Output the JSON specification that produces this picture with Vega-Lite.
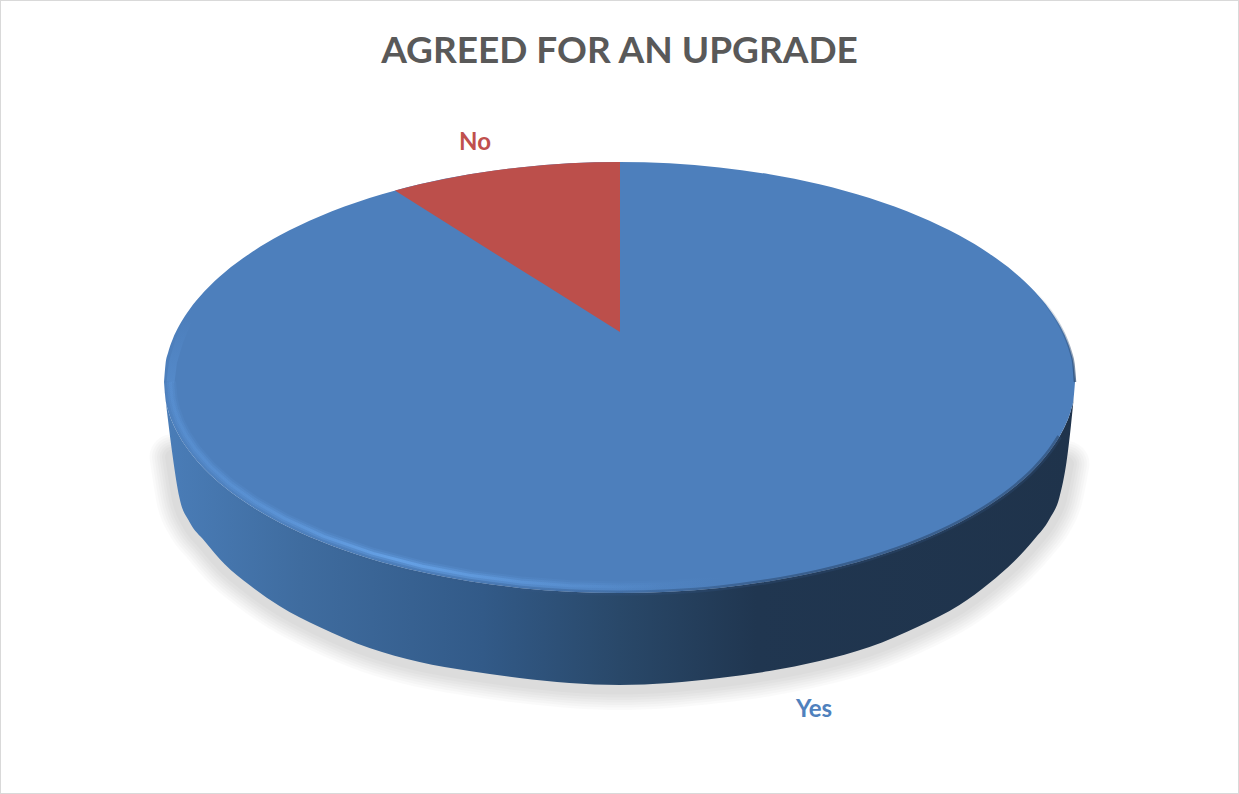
{
  "$schema": "https://vega.github.io/schema/vega-lite/v6.json",
  "width": 1239,
  "height": 794,
  "padding": 0,
  "autosize": {"type": "none"},
  "background": "white",
  "view": {"stroke": "#d9d9d9", "strokeWidth": 2, "fill": "white"},
  "title": {
    "text": "AGREED FOR AN UPGRADE",
    "font": "Lato",
    "fontSize": 37,
    "fontWeight": "bold",
    "color": "#595959",
    "anchor": "middle",
    "offset": -71
  },
  "datasets": {
    "disc": [
      {"x": 164, "faceTop": 382, "faceBottom": 382, "wallBottom": 382},
      {"x": 165.5, "faceTop": 364.2, "faceBottom": 399.1, "wallBottom": 398},
      {"x": 168, "faceTop": 352.9, "faceBottom": 409.9, "wallBottom": 420},
      {"x": 172.5, "faceTop": 339.7, "faceBottom": 422.6, "wallBottom": 455},
      {"x": 179.5, "faceTop": 325.1, "faceBottom": 436.6, "wallBottom": 498},
      {"x": 189.5, "faceTop": 309.4, "faceBottom": 451.6, "wallBottom": 522},
      {"x": 204.5, "faceTop": 291.3, "faceBottom": 469, "wallBottom": 541},
      {"x": 224.5, "faceTop": 272.4, "faceBottom": 487.1, "wallBottom": 564},
      {"x": 249.5, "faceTop": 253.7, "faceBottom": 505.1, "wallBottom": 585},
      {"x": 279.5, "faceTop": 235.6, "faceBottom": 522.4, "wallBottom": 606},
      {"x": 319.5, "faceTop": 216.5, "faceBottom": 540.8, "wallBottom": 627},
      {"x": 369.5, "faceTop": 198.1, "faceBottom": 558.4, "wallBottom": 648},
      {"x": 419.5, "faceTop": 184.3, "faceBottom": 571.6, "wallBottom": 662},
      {"x": 469.5, "faceTop": 174.3, "faceBottom": 581.2, "wallBottom": 671},
      {"x": 519.5, "faceTop": 167.4, "faceBottom": 587.9, "wallBottom": 678},
      {"x": 569.5, "faceTop": 163.3, "faceBottom": 591.7, "wallBottom": 683},
      {"x": 619.5, "faceTop": 162, "faceBottom": 593, "wallBottom": 685},
      {"x": 669.5, "faceTop": 163.3, "faceBottom": 591.7, "wallBottom": 683},
      {"x": 719.5, "faceTop": 167.4, "faceBottom": 587.9, "wallBottom": 678},
      {"x": 769.5, "faceTop": 174.3, "faceBottom": 581.2, "wallBottom": 671},
      {"x": 819.5, "faceTop": 184.3, "faceBottom": 571.6, "wallBottom": 661},
      {"x": 869.5, "faceTop": 198.1, "faceBottom": 558.4, "wallBottom": 647},
      {"x": 919.5, "faceTop": 216.5, "faceBottom": 540.8, "wallBottom": 626},
      {"x": 959.5, "faceTop": 235.6, "faceBottom": 522.4, "wallBottom": 605},
      {"x": 989.5, "faceTop": 253.7, "faceBottom": 505.1, "wallBottom": 583},
      {"x": 1014.5, "faceTop": 272.4, "faceBottom": 487.1, "wallBottom": 561},
      {"x": 1034.5, "faceTop": 291.3, "faceBottom": 469, "wallBottom": 539},
      {"x": 1049.5, "faceTop": 309.4, "faceBottom": 451.6, "wallBottom": 519},
      {"x": 1059.5, "faceTop": 325.1, "faceBottom": 436.6, "wallBottom": 497},
      {"x": 1066.5, "faceTop": 339.7, "faceBottom": 422.6, "wallBottom": 462},
      {"x": 1071, "faceTop": 352.9, "faceBottom": 409.9, "wallBottom": 425},
      {"x": 1073.5, "faceTop": 364.2, "faceBottom": 399.1, "wallBottom": 400},
      {"x": 1075, "faceTop": 382, "faceBottom": 382, "wallBottom": 382}
    ],
    "noSlice": [
      {"x": 395, "rim": 190.6, "edge": 190.6},
      {"x": 419.5, "rim": 184.3, "edge": 206.1},
      {"x": 444.5, "rim": 178.9, "edge": 221.8},
      {"x": 469.5, "rim": 174.3, "edge": 237.5},
      {"x": 494.5, "rim": 170.5, "edge": 253.2},
      {"x": 519.5, "rim": 167.4, "edge": 268.9},
      {"x": 544.5, "rim": 165, "edge": 284.6},
      {"x": 569.5, "rim": 163.3, "edge": 300.3},
      {"x": 594.5, "rim": 162.3, "edge": 316},
      {"x": 620, "rim": 162, "edge": 332}
    ],
    "bevel": [
      {"seq": 1, "x": 188, "y": 320},
      {"seq": 2, "x": 179, "y": 342},
      {"seq": 3, "x": 173, "y": 362},
      {"seq": 4, "x": 170.5, "y": 382},
      {"seq": 5, "x": 172, "y": 398.6},
      {"seq": 6, "x": 174.5, "y": 409.1},
      {"seq": 7, "x": 178.9, "y": 421.4},
      {"seq": 8, "x": 185.8, "y": 435},
      {"seq": 9, "x": 195.6, "y": 449.6},
      {"seq": 10, "x": 210.4, "y": 466.5},
      {"seq": 11, "x": 230.1, "y": 484.1},
      {"seq": 12, "x": 254.8, "y": 501.6},
      {"seq": 13, "x": 284.4, "y": 518.4},
      {"seq": 14, "x": 323.8, "y": 536.3},
      {"seq": 15, "x": 373.1, "y": 553.4},
      {"seq": 16, "x": 422.4, "y": 566.2},
      {"seq": 17, "x": 471.6, "y": 575.6},
      {"seq": 18, "x": 520.9, "y": 582},
      {"seq": 19, "x": 570.2, "y": 585.8},
      {"seq": 20, "x": 619.5, "y": 587},
      {"seq": 21, "x": 668.8, "y": 585.8},
      {"seq": 22, "x": 718.1, "y": 582},
      {"seq": 23, "x": 767.4, "y": 575.6},
      {"seq": 24, "x": 816.6, "y": 566.2},
      {"seq": 25, "x": 865.9, "y": 553.4},
      {"seq": 26, "x": 915.2, "y": 536.3},
      {"seq": 27, "x": 954.6, "y": 518.4},
      {"seq": 28, "x": 984.2, "y": 501.6},
      {"seq": 29, "x": 1008.9, "y": 484.1},
      {"seq": 30, "x": 1028.6, "y": 466.5},
      {"seq": 31, "x": 1043.4, "y": 449.6},
      {"seq": 32, "x": 1053.2, "y": 435},
      {"seq": 33, "x": 1060.1, "y": 421.4},
      {"seq": 34, "x": 1064.5, "y": 409.1},
      {"seq": 35, "x": 1067, "y": 398.6},
      {"seq": 36, "x": 1068.5, "y": 382}
    ],
    "labels": [
      {"answer": "No", "x": 475, "y": 142.5},
      {"answer": "Yes", "x": 814, "y": 709.5}
    ]
  },
  "layer": [
    {
      "description": "Soft ground shadow: stacked translucent strokes along the lower wall edge",
      "data": {"name": "disc"},
      "transform": [{"filter": "datum.wallBottom > 450"}],
      "mark": {"type": "line", "stroke": "black", "strokeOpacity": 0.018, "strokeWidth": 46, "strokeJoin": "round", "strokeCap": "round", "interpolate": "monotone", "yOffset": 2},
      "encoding": {
        "x": {"field": "x", "type": "quantitative", "scale": {"domain": [0, 1239], "nice": false, "zero": false}, "axis": null},
        "y": {"field": "wallBottom", "type": "quantitative", "scale": {"domain": [794, 0], "nice": false, "zero": false}, "axis": null}
      }
    },
    {
      "data": {"name": "disc"},
      "transform": [{"filter": "datum.wallBottom > 450"}],
      "mark": {"type": "line", "stroke": "black", "strokeOpacity": 0.018, "strokeWidth": 41, "strokeJoin": "round", "strokeCap": "round", "interpolate": "monotone", "yOffset": 2},
      "encoding": {"x": {"field": "x", "type": "quantitative"}, "y": {"field": "wallBottom", "type": "quantitative"}}
    },
    {
      "data": {"name": "disc"},
      "transform": [{"filter": "datum.wallBottom > 450"}],
      "mark": {"type": "line", "stroke": "black", "strokeOpacity": 0.02, "strokeWidth": 36, "strokeJoin": "round", "strokeCap": "round", "interpolate": "monotone", "yOffset": 2},
      "encoding": {"x": {"field": "x", "type": "quantitative"}, "y": {"field": "wallBottom", "type": "quantitative"}}
    },
    {
      "data": {"name": "disc"},
      "transform": [{"filter": "datum.wallBottom > 450"}],
      "mark": {"type": "line", "stroke": "black", "strokeOpacity": 0.02, "strokeWidth": 31, "strokeJoin": "round", "strokeCap": "round", "interpolate": "monotone", "yOffset": 2},
      "encoding": {"x": {"field": "x", "type": "quantitative"}, "y": {"field": "wallBottom", "type": "quantitative"}}
    },
    {
      "data": {"name": "disc"},
      "transform": [{"filter": "datum.wallBottom > 450"}],
      "mark": {"type": "line", "stroke": "black", "strokeOpacity": 0.02, "strokeWidth": 26, "strokeJoin": "round", "strokeCap": "round", "interpolate": "monotone", "yOffset": 2},
      "encoding": {"x": {"field": "x", "type": "quantitative"}, "y": {"field": "wallBottom", "type": "quantitative"}}
    },
    {
      "data": {"name": "disc"},
      "transform": [{"filter": "datum.wallBottom > 450"}],
      "mark": {"type": "line", "stroke": "black", "strokeOpacity": 0.02, "strokeWidth": 21, "strokeJoin": "round", "strokeCap": "round", "interpolate": "monotone", "yOffset": 2},
      "encoding": {"x": {"field": "x", "type": "quantitative"}, "y": {"field": "wallBottom", "type": "quantitative"}}
    },
    {
      "data": {"name": "disc"},
      "transform": [{"filter": "datum.wallBottom > 450"}],
      "mark": {"type": "line", "stroke": "black", "strokeOpacity": 0.02, "strokeWidth": 15, "strokeJoin": "round", "strokeCap": "round", "interpolate": "monotone", "yOffset": 2},
      "encoding": {"x": {"field": "x", "type": "quantitative"}, "y": {"field": "wallBottom", "type": "quantitative"}}
    },
    {
      "description": "Cylinder wall, shaded left to right",
      "data": {"name": "disc"},
      "mark": {
        "type": "area",
        "interpolate": "monotone",
        "fill": {
          "gradient": "linear", "x1": 0, "x2": 1, "y1": 0, "y2": 0,
          "stops": [
            {"offset": 0, "color": "#4a7db8"},
            {"offset": 0.15, "color": "#3f6c9f"},
            {"offset": 0.35, "color": "#325a88"},
            {"offset": 0.5, "color": "#294869"},
            {"offset": 0.65, "color": "#203650"},
            {"offset": 1, "color": "#1f334b"}
          ]
        }
      },
      "encoding": {
        "x": {"field": "x", "type": "quantitative"},
        "y": {"field": "faceBottom", "type": "quantitative"},
        "y2": {"field": "wallBottom"}
      }
    },
    {
      "description": "Yes: the whole top face, the No slice sits on top of it",
      "data": {"name": "disc"},
      "mark": {"type": "area", "interpolate": "monotone", "fill": "#4d7fbc"},
      "encoding": {
        "x": {"field": "x", "type": "quantitative"},
        "y": {"field": "faceTop", "type": "quantitative"},
        "y2": {"field": "faceBottom"}
      }
    },
    {
      "description": "No slice",
      "data": {"name": "noSlice"},
      "mark": {"type": "area", "fill": "#bc4f4b"},
      "encoding": {
        "x": {"field": "x", "type": "quantitative"},
        "y": {"field": "rim", "type": "quantitative"},
        "y2": {"field": "edge"}
      }
    },
    {
      "description": "Blurred seam between face and wall on the shaded side",
      "data": {"name": "disc"},
      "transform": [{"filter": "datum.x < 1066 && datum.x > 200"}],
      "mark": {
        "type": "line", "interpolate": "monotone", "strokeWidth": 5,
        "stroke": {
          "gradient": "linear", "x1": 0, "x2": 1, "y1": 0, "y2": 0,
          "stops": [
            {"offset": 0, "color": "rgba(60,100,150,0)"},
            {"offset": 0.4, "color": "rgba(50,85,130,0.3)"},
            {"offset": 0.7, "color": "rgba(40,68,104,0.55)"},
            {"offset": 1, "color": "rgba(40,68,104,0.55)"}
          ]
        }
      },
      "encoding": {"x": {"field": "x", "type": "quantitative"}, "y": {"field": "faceBottom", "type": "quantitative"}}
    },
    {
      "description": "Bevel highlight along the near rim, widest and faintest stroke first",
      "data": {"name": "bevel"},
      "transform": [{"filter": "datum.seq >= 4"}],
      "mark": {
        "type": "line", "strokeWidth": 11, "strokeJoin": "round",
        "stroke": {
          "gradient": "linear", "x1": 0, "x2": 1, "y1": 0, "y2": 0,
          "stops": [
            {"offset": 0, "color": "rgba(98,158,228,0.12)"},
            {"offset": 0.3, "color": "rgba(104,165,235,0.14)"},
            {"offset": 0.5, "color": "rgba(104,165,235,0.06)"},
            {"offset": 0.62, "color": "rgba(104,165,235,0)"},
            {"offset": 1, "color": "rgba(104,165,235,0)"}
          ]
        }
      },
      "encoding": {
        "x": {"field": "x", "type": "quantitative"},
        "y": {"field": "y", "type": "quantitative"},
        "order": {"field": "seq"}
      }
    },
    {
      "data": {"name": "bevel"},
      "transform": [{"filter": "datum.seq >= 4"}],
      "mark": {
        "type": "line", "strokeWidth": 7, "strokeJoin": "round",
        "stroke": {
          "gradient": "linear", "x1": 0, "x2": 1, "y1": 0, "y2": 0,
          "stops": [
            {"offset": 0, "color": "rgba(98,158,228,0.2)"},
            {"offset": 0.3, "color": "rgba(104,165,235,0.3)"},
            {"offset": 0.5, "color": "rgba(104,165,235,0.1)"},
            {"offset": 0.6, "color": "rgba(104,165,235,0)"},
            {"offset": 1, "color": "rgba(104,165,235,0)"}
          ]
        }
      },
      "encoding": {
        "x": {"field": "x", "type": "quantitative"},
        "y": {"field": "y", "type": "quantitative"},
        "order": {"field": "seq"}
      }
    },
    {
      "data": {"name": "bevel"},
      "transform": [{"filter": "datum.seq >= 4"}],
      "mark": {
        "type": "line", "strokeWidth": 3, "strokeJoin": "round",
        "stroke": {
          "gradient": "linear", "x1": 0, "x2": 1, "y1": 0, "y2": 0,
          "stops": [
            {"offset": 0, "color": "rgba(98,158,228,0.2)"},
            {"offset": 0.1, "color": "rgba(100,160,230,0.3)"},
            {"offset": 0.25, "color": "rgba(108,170,240,0.65)"},
            {"offset": 0.4, "color": "rgba(104,165,235,0.3)"},
            {"offset": 0.55, "color": "rgba(104,165,235,0)"},
            {"offset": 1, "color": "rgba(104,165,235,0)"}
          ]
        }
      },
      "encoding": {
        "x": {"field": "x", "type": "quantitative"},
        "y": {"field": "y", "type": "quantitative"},
        "order": {"field": "seq"}
      }
    },
    {
      "description": "Upper end of the highlight, fading out as it climbs the left side",
      "data": {"name": "bevel"},
      "transform": [{"filter": "datum.seq <= 4"}],
      "mark": {
        "type": "line", "strokeWidth": 8, "strokeCap": "butt",
        "stroke": {
          "gradient": "linear", "x1": 0, "x2": 0, "y1": 0, "y2": 1,
          "stops": [
            {"offset": 0, "color": "rgba(98,158,228,0)"},
            {"offset": 1, "color": "rgba(98,158,228,0.32)"}
          ]
        }
      },
      "encoding": {
        "x": {"field": "x", "type": "quantitative"},
        "y": {"field": "y", "type": "quantitative"},
        "order": {"field": "seq"}
      }
    },
    {
      "description": "Thin dark fringe on the far right of the rim",
      "data": {"name": "disc"},
      "transform": [{"filter": "datum.x > 1030"}],
      "mark": {"type": "line", "interpolate": "monotone", "strokeWidth": 2.5,
        "stroke": {
          "gradient": "linear", "x1": 0, "x2": 0, "y1": 0, "y2": 1,
          "stops": [
            {"offset": 0, "color": "rgba(43,74,114,0)"},
            {"offset": 1, "color": "rgba(43,74,114,0.75)"}
          ]
        }
      },
      "encoding": {"x": {"field": "x", "type": "quantitative"}, "y": {"field": "faceTop", "type": "quantitative"}}
    },
    {
      "description": "Category labels",
      "data": {"name": "labels"},
      "mark": {"type": "text", "font": "Lato", "fontSize": 24, "fontWeight": "bold", "align": "center", "baseline": "middle"},
      "encoding": {
        "x": {"field": "x", "type": "quantitative"},
        "y": {"field": "y", "type": "quantitative"},
        "text": {"field": "answer"},
        "color": {"field": "answer", "type": "nominal", "scale": {"domain": ["Yes", "No"], "range": ["#4f81bd", "#c0504d"]}, "legend": null}
      }
    }
  ]
}
